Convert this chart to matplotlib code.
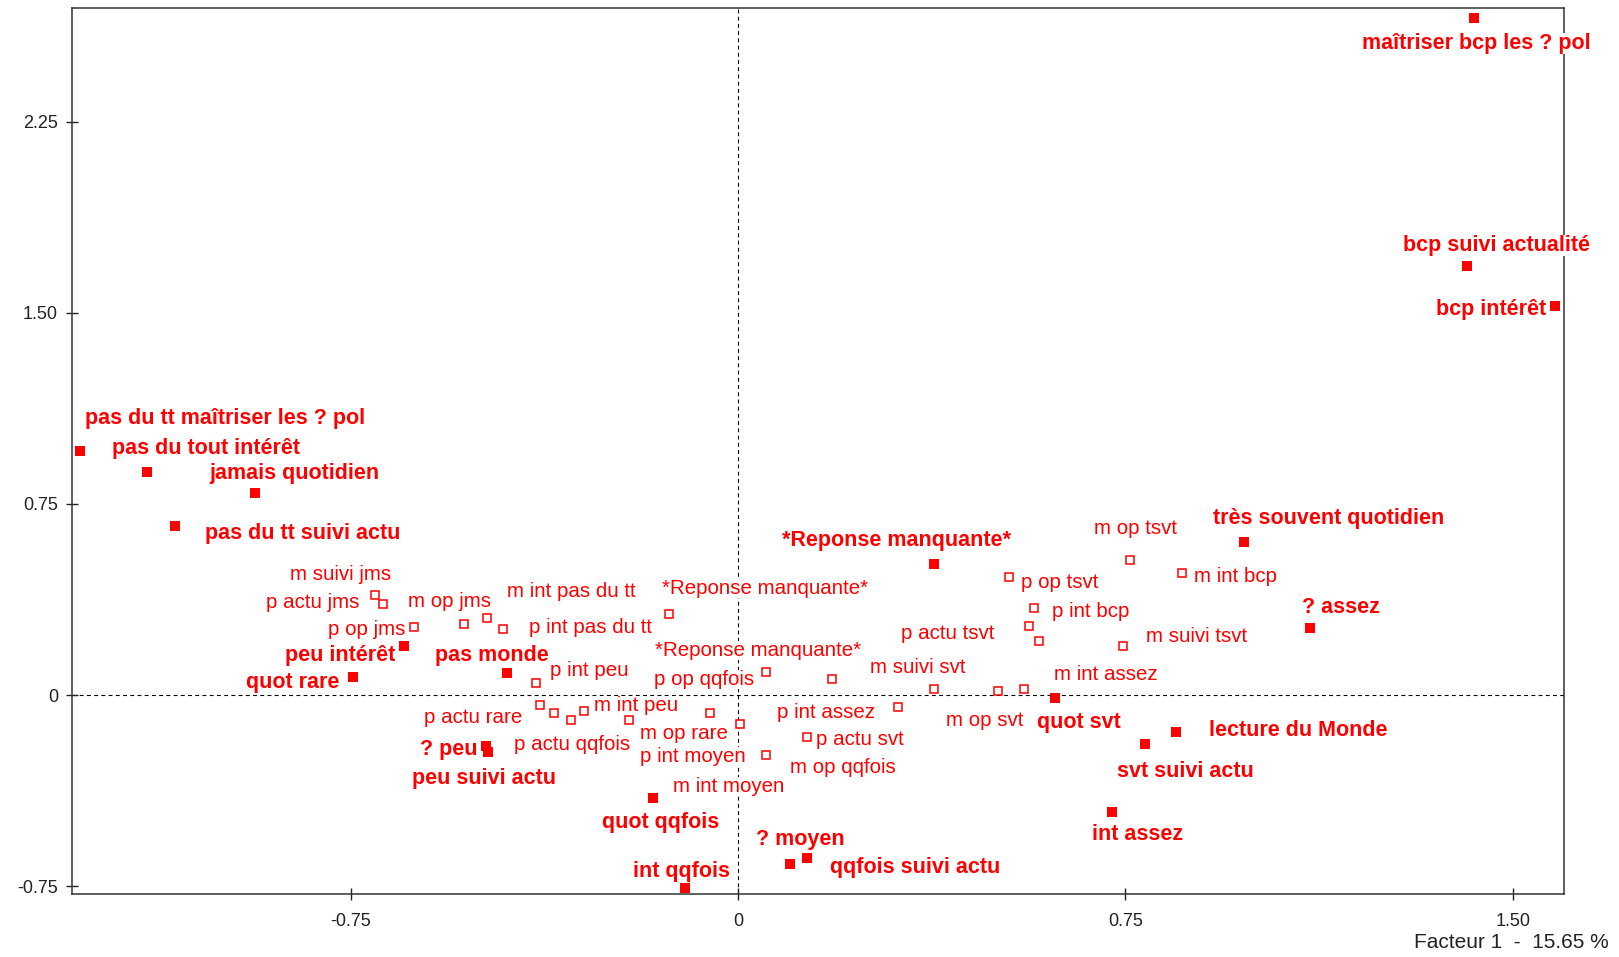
import matplotlib
matplotlib.use("Agg")
import matplotlib.pyplot as plt

plt.rcParams['font.family'] = ['Liberation Sans', 'DejaVu Sans']

# ---------------- data ----------------
# active categories (filled squares)
act_labels = ["maîtriser bcp les ? pol", "bcp suivi actualité", "bcp intérêt",
              "pas du tt maîtriser les ? pol", "pas du tout intérêt", "jamais quotidien",
              "pas du tt suivi actu", "peu intérêt", "quot rare", "pas monde", "? peu",
              "peu suivi actu", "quot qqfois", "int qqfois", "? moyen", "qqfois suivi actu",
              "*Reponse manquante*", "très souvent quotidien", "? assez", "quot svt",
              "lecture du Monde", "svt suivi actu", "int assez"]
act_x = [1.426, 1.412, 1.582, -1.276, -1.146, -0.936, -1.092, -0.648, -0.746, -0.448,
         -0.488, -0.484, -0.166, -0.104, 0.100, 0.134, 0.380, 0.980, 1.108, 0.614,
         0.848, 0.788, 0.724]
act_y = [2.659, 1.686, 1.528, 0.957, 0.876, 0.795, 0.665, 0.191, 0.069, 0.085,
         -0.199, -0.223, -0.405, -0.758, -0.665, -0.641, 0.515, 0.600, 0.264, -0.012,
         -0.146, -0.191, -0.458]

# supplementary categories (open squares)
sup_labels = ["m suivi jms", "p actu jms", "p op jms", "m op jms", "m int pas du tt",
              "p int pas du tt", "*Reponse manquante*", "p int peu", "p op qqfois",
              "*Reponse manquante*", "m suivi svt", "p actu rare", "", "p actu qqfois",
              "m int peu", "m op rare", "m int moyen", "p int moyen", "m op qqfois",
              "p actu svt", "p int assez", "m op svt", "", "p op tsvt", "p int bcp",
              "p actu tsvt", "m int assez", "m suivi tsvt", "m op tsvt", "m int bcp"]
sup_x = [-0.704, -0.688, -0.628, -0.532, -0.486, -0.456, -0.134, -0.392, 0.054, 0.182,
         0.380, -0.384, -0.356, -0.324, -0.298, -0.212, -0.054, 0.004, 0.054, 0.134,
         0.310, 0.504, 0.554, 0.524, 0.572, 0.564, 0.582, 0.746, 0.758, 0.860]
sup_y = [0.393, 0.357, 0.268, 0.280, 0.304, 0.259, 0.320, 0.049, 0.089, 0.061,
         0.024, -0.041, -0.069, -0.097, -0.061, -0.097, -0.069, -0.114, -0.235, -0.166,
         -0.049, 0.016, 0.024, 0.462, 0.341, 0.272, 0.211, 0.191, 0.531, 0.478]

x_ticks = [-0.75, 0, 0.75, 1.50]
x_tick_labels = ["-0.75", "0", "0.75", "1.50"]
y_ticks = [-0.75, 0, 0.75, 1.50, 2.25]
y_tick_labels = ["-0.75", "0", "0.75", "1.50", "2.25"]
axis_title = "Facteur 1  -  15.65 %"

# ---------------- layout (label placement: align, dx, dy in screen pixels) ----------------
act_place = [("center", 2, 24), ("center", 29, -22), ("right", -9, 2),
             ("left", 5, -35), ("left", -35, -25), ("left", -46, -21),
             ("left", 30, 6), ("right", -8, 7), ("right", -14, 3), ("center", -15, -20),
             ("right", -9, 2), ("center", -4, 25), ("center", 8, 22), ("center", -3, -19),
             ("center", 10, -27), ("left", 23, 7), ("center", -38, -25), ("center", 84, -26),
             ("center", 31, -22), ("center", 24, 22), ("left", 33, -4), ("center", 40, 26),
             ("center", 26, 21)]
sup_place = [("center", -34, -22), ("right", -24, -4), ("right", -9, 1), ("center", -14, -24),
             ("center", 84, -28), ("left", 26, -4), ("center", 96, -27), ("left", 14, -14),
             ("right", -12, 5), ("center", -74, -31), ("center", -17, -23), ("right", -18, 10),
             ("center", 0, 0), ("center", 1, 23), ("left", 10, -7), ("left", 11, 12),
             ("center", 18, 72), ("right", 5, 30), ("left", 24, 11), ("left", 9, 0),
             ("right", -23, 3), ("center", -14, 28), ("center", 0, 0), ("left", 12, 3),
             ("left", 18, 1), ("right", -35, 6), ("center", 67, 31), ("left", 23, -12),
             ("center", 6, -33), ("left", 12, 1)]
DY_SHIFT = 2  # global nudge so glyph centres line up

RED = "#ff0000"
W, H = 1619, 957
fig = plt.figure(figsize=(W / 100, H / 100), dpi=100)
ax = fig.add_axes([72.3 / W, 1 - 894.2 / H, 1492 / W, 885.9 / H])
ax.set_xlim(-1.29, 1.60)
ax.set_ylim(-0.782, 2.696)

ax.axhline(0, color="black", lw=0.8, ls=(0, (3.5, 3)), zorder=1)
ax.axvline(0, color="black", lw=0.8, ls=(0, (3.5, 3)), zorder=1)

ax.plot(act_x, act_y, ls="none", marker="s", ms=6.6, mfc=RED, mec=RED, mew=0, zorder=3)
ax.plot(sup_x, sup_y, ls="none", marker="s", ms=5.6, mfc="white", mec=RED, mew=1.1, zorder=3)

box = dict(boxstyle="square,pad=0", fc="white", ec="none")
for lab, x, y, (ha, dx, dy) in zip(act_labels, act_x, act_y, act_place):
    ax.annotate(lab, (x, y), xytext=(dx, -(dy + DY_SHIFT)), textcoords="offset pixels",
                ha=ha, va="center", fontsize=15.5, fontweight="bold", color=RED,
                bbox=box, zorder=5, annotation_clip=False)
for lab, x, y, (ha, dx, dy) in zip(sup_labels, sup_x, sup_y, sup_place):
    if not lab:
        continue
    ax.annotate(lab, (x, y), xytext=(dx, -(dy + DY_SHIFT)), textcoords="offset pixels",
                ha=ha, va="center", fontsize=14.8, color=RED,
                bbox=box, zorder=5, annotation_clip=False)

ax.set_xticks(x_ticks)
ax.set_xticklabels(x_tick_labels)
ax.set_yticks(y_ticks)
ax.set_yticklabels(y_tick_labels)
ax.tick_params(axis="both", direction="inout", length=8.6, width=1.0, colors="#222222",
               labelsize=13)
ax.tick_params(axis="x", pad=9)
ax.tick_params(axis="y", pad=6)
for sp in ax.spines.values():
    sp.set_color("#333333")
    sp.set_linewidth(1.1)

fig.text(1609 / W, 1 - 943 / H, axis_title, ha="right", va="center", fontsize=15,
         color="#222222")

fig.savefig("out.png", dpi=100, facecolor="white")
